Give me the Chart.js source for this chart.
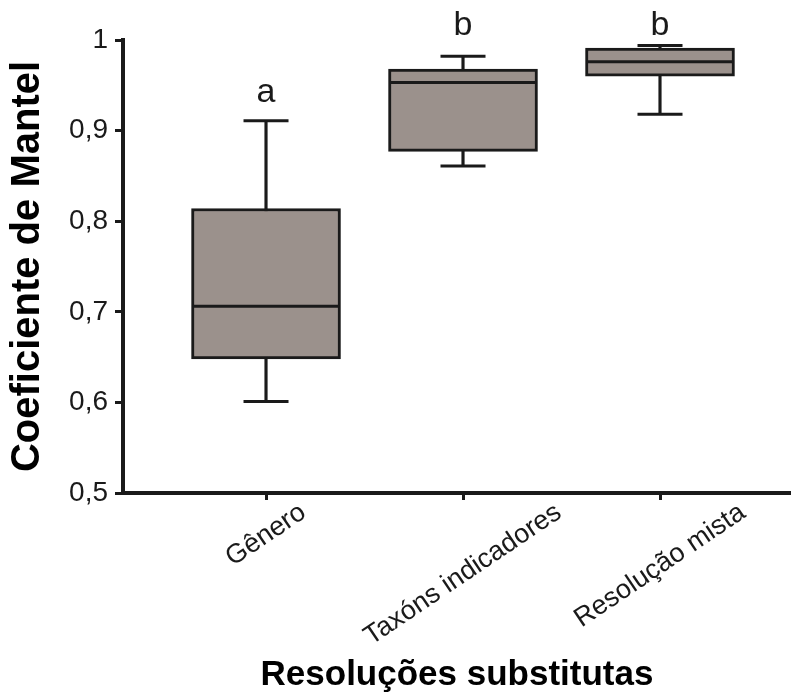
<!DOCTYPE html>
<html lang="pt">
<head>
<meta charset="utf-8">
<title>Coeficiente de Mantel</title>
<script src="https://cdn.jsdelivr.net/npm/chart.js@4.4.1/dist/chart.umd.min.js"></script>
<style>
  html, body { margin: 0; padding: 0; background: #fff; }
  canvas { display: block; }
</style>
</head>
<body>
<canvas id="mantelChart" width="791" height="698"></canvas>
<script>
/* ── Data ──────────────────────────────────────────────── */
const CATEGORIES    = ["Gênero", "Taxóns indicadores", "Resolução mista"];
const WHISKER_LOW   = [0.601, 0.861, 0.918];
const Q1            = [0.648, 0.877, 0.960];
const MEDIAN        = [0.706, 0.953, 0.976];
const Q3            = [0.814, 0.968, 0.991];
const WHISKER_HIGH  = [0.911, 0.982, 0.994];
const GROUP_LETTERS = ["a", "b", "b"];
const LETTER_AT     = [0.932, 1.005, 1.005];   // baseline, in y units

const Y_MIN  = 0.5;
const Y_MAX  = 1;
const Y_STEP = 0.1;

/* ── Styles ────────────────────────────────────────────── */
const INK      = "#1a1a1a";
const BOX_FILL = "#9b918c";
const FONT     = "'Liberation Sans', Arial, Helvetica, sans-serif";

const xPos = i => i + 1;

/* ── Helpers ───────────────────────────────────────────── */
function fmtTick(v) {
  if (Math.abs(v - 1) < 1e-9) return "1";
  return v.toFixed(1).replace(".", ",");
}

/* ── Rotated, centred category labels + group letters ──── */
const annotate = {
  id: "annotate",
  afterDraw(chart) {
    const { ctx, scales: { x, y } } = chart;
    const theta = 34 * Math.PI / 180;
    const top   = x.top + 7;

    ctx.save();
    ctx.fillStyle = INK;
    ctx.font = `27px ${FONT}`;
    ctx.textAlign = "center";
    ctx.textBaseline = "middle";
    CATEGORIES.forEach((label, i) => {
      const w  = ctx.measureText(label).width;
      const px = x.getPixelForValue(xPos(i));
      const py = top + (w / 2) * Math.sin(theta) + 12 * Math.cos(theta);
      ctx.save();
      ctx.translate(px, py);
      ctx.rotate(-theta);
      ctx.fillText(label, 0, 0);
      ctx.restore();
    });

    ctx.font = `34px ${FONT}`;
    ctx.textBaseline = "alphabetic";
    GROUP_LETTERS.forEach((letter, i) => {
      ctx.fillText(letter, x.getPixelForValue(xPos(i)), y.getPixelForValue(LETTER_AT[i]));
    });
    ctx.restore();
  },
};

/* ── Chart ─────────────────────────────────────────────── */
new Chart(document.getElementById("mantelChart"), {
  type: "bar",
  data: {
    datasets: [
      {
        // median lines
        type: "scatter",
        data: MEDIAN.map((v, i) => ({ x: xPos(i), y: v })),
        pointStyle: "line",
        pointRadius: 73,
        pointHoverRadius: 73,
        borderWidth: 3,
        borderColor: INK,
        clip: false,
        order: 0,
      },
      {
        // whisker caps
        type: "scatter",
        data: [
          ...WHISKER_LOW.map((v, i) => ({ x: xPos(i), y: v })),
          ...WHISKER_HIGH.map((v, i) => ({ x: xPos(i), y: v })),
        ],
        pointStyle: "line",
        pointRadius: 22.5,
        pointHoverRadius: 22.5,
        borderWidth: 3,
        borderColor: INK,
        clip: false,
        order: 1,
      },
      {
        // boxes: Q1 → Q3
        data: Q1.map((v, i) => ({ x: xPos(i), y: [v, Q3[i]] })),
        backgroundColor: BOX_FILL,
        borderColor: INK,
        borderWidth: 3,
        borderSkipped: false,
        barThickness: 149,
        grouped: false,
        order: 2,
      },
      {
        // whisker stems: low → high, sitting under the box
        data: WHISKER_LOW.map((v, i) => ({ x: xPos(i), y: [v, WHISKER_HIGH[i]] })),
        backgroundColor: INK,
        borderWidth: 0,
        barThickness: 2.5,
        grouped: false,
        order: 3,
      },
    ],
  },
  options: {
    responsive: false,
    animation: false,
    layout: {
      autoPadding: false,
      padding: { top: 40, right: 0, bottom: 0, left: 0 },
    },
    plugins: {
      legend:  { display: false },
      tooltip: { enabled: false },
    },
    scales: {
      x: {
        type: "linear",
        min: 0.274,
        max: 3.665,
        offset: false,
        afterBuildTicks: s => { s.ticks = CATEGORIES.map((c, i) => ({ value: xPos(i) })); },
        afterFit: s => { s.height = 205; },
        ticks: { display: false },
        grid: {
          offset: false,
          drawOnChartArea: false,
          drawTicks: true,
          tickLength: 7,
          tickWidth: 3,
          tickColor: INK,
        },
        border: { display: true, width: 4, color: INK },
        title: {
          display: true,
          text: "Resoluções substitutas",
          color: "#000",
          font: { family: FONT, size: 35, weight: "bold" },
          padding: { top: 0, bottom: 2 },
        },
      },
      y: {
        min: Y_MIN,
        max: Y_MAX,
        afterFit: s => { s.width = 123; },
        ticks: {
          stepSize: Y_STEP,
          color: INK,
          padding: 7,
          font: { family: FONT, size: 28 },
          callback: v => fmtTick(v),
        },
        grid: {
          drawOnChartArea: false,
          drawTicks: true,
          tickLength: 8,
          tickWidth: 3,
          tickColor: INK,
        },
        border: { display: true, width: 4, color: INK },
        title: {
          display: true,
          text: "Coeficiente de Mantel",
          color: "#000",
          font: { family: FONT, size: 40, weight: "bold" },
          padding: { top: 4, bottom: 0 },
        },
      },
    },
  },
  plugins: [annotate],
});
</script>
</body>
</html>
